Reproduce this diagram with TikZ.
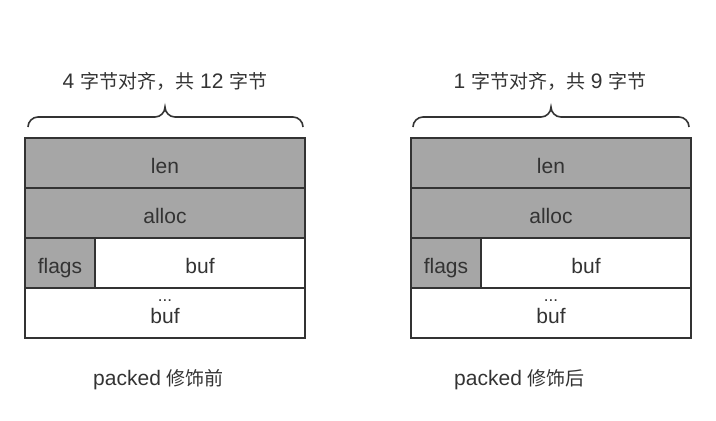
\documentclass[tikz,border=0pt]{standalone}
\usepackage{fontspec}
\setmainfont{Liberation Sans}
\newfontfamily\cjk{Noto Sans CJK SC}
\usetikzlibrary{positioning}
\definecolor{fieldgray}{HTML}{A6A6A6}
\definecolor{inkgray}{HTML}{333333}
\newcommand{\zh}[1]{{\cjk\fontsize{19pt}{20pt}\selectfont #1}}

\begin{document}
\begin{tikzpicture}[x=1pt, y=-1pt,
    field/.style={draw=inkgray, line width=2pt, minimum height=50pt, outer sep=0pt, inner sep=0pt,
        text height=20pt, text depth=0pt, text=inkgray, font=\fontsize{21pt}{22pt}\selectfont},
    row/.style={field, minimum width=280pt},
    shaded/.style={fill=fieldgray},
    caption/.style={text=inkgray, inner sep=0pt, anchor=base, font=\fontsize{21pt}{22pt}\selectfont},
    bracket/.style={draw=inkgray, line width=1.6pt}]
\useasboundingbox (0,0) rectangle (716,421);

% packed before
\node[caption] (title1) at (165,88) {4 \zh{字节对齐，共} 12 \zh{字节}};
\node[row, shaded] (len1) at (165,163) {len};
\node[row, shaded, below=0pt of len1] (alloc1) {alloc};
\node[field, shaded, minimum width=70pt, anchor=north west] (flags1) at (alloc1.south west) {flags};
\node[field, minimum width=210pt, right=0pt of flags1] (buf1) {buf};
\node[row, anchor=north] (rest1) at (alloc1.south |- flags1.south) {buf};
\node[caption, font=\fontsize{17pt}{18pt}\selectfont] (dots1) at ([yshift=22pt]rest1.base) {...};
\draw[bracket] (28,127) .. controls (28,121.5) and (32.5,117) .. (38,117) -- (155,117)
    .. controls (160.5,117) and (165,112.5) .. (165,107)
    .. controls (165,112.5) and (169.5,117) .. (175,117)
    -- (293,117) .. controls (298.5,117) and (303,121.5) .. (303,127);
\node[caption] (note1) at (158.5,385) {packed \zh{修饰前}};

% packed after
\node[caption] (title2) at (550,88) {1 \zh{字节对齐，共} 9 \zh{字节}};
\node[row, shaded] (len2) at (551,163) {len};
\node[row, shaded, below=0pt of len2] (alloc2) {alloc};
\node[field, shaded, minimum width=70pt, anchor=north west] (flags2) at (alloc2.south west) {flags};
\node[field, minimum width=210pt, right=0pt of flags2] (buf2) {buf};
\node[row, anchor=north] (rest2) at (alloc2.south |- flags2.south) {buf};
\node[caption, font=\fontsize{17pt}{18pt}\selectfont] (dots2) at ([yshift=22pt]rest2.base) {...};
\draw[bracket] (413,127) .. controls (413,121.5) and (417.5,117) .. (423,117) -- (541,117)
    .. controls (546.5,117) and (551,112.5) .. (551,107)
    .. controls (551,112.5) and (555.5,117) .. (561,117)
    -- (679,117) .. controls (684.5,117) and (689,121.5) .. (689,127);
\node[caption] (note2) at (519.5,385) {packed \zh{修饰后}};
\end{tikzpicture}
\end{document}
